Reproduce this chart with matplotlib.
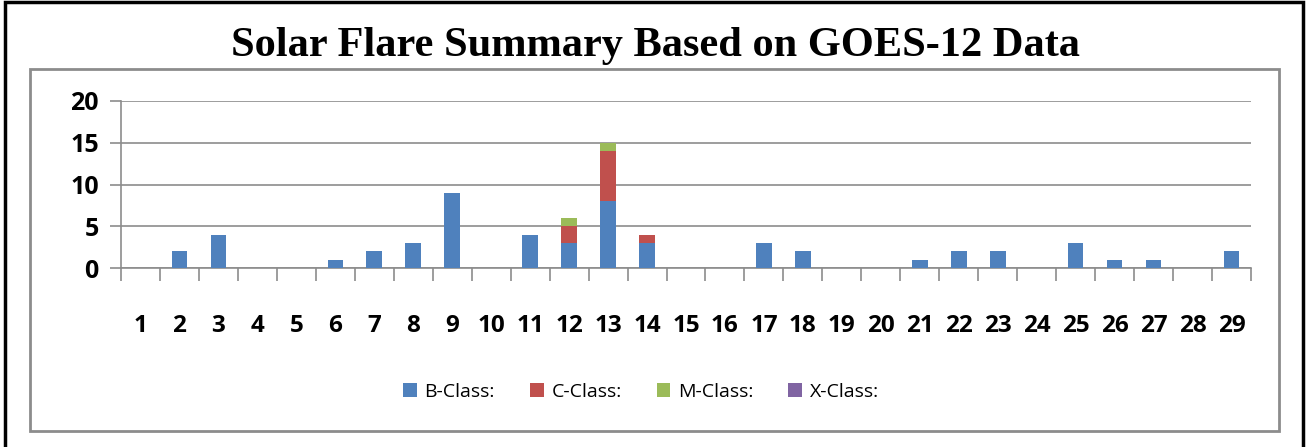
import matplotlib
matplotlib.use('Agg')
import matplotlib.pyplot as plt
import numpy as np
from matplotlib.patches import Rectangle

days = list(range(1, 30))
b_class = [0, 2, 4, 0, 0, 1, 2, 3, 9, 0, 4, 3, 8, 3, 0, 0, 3, 2, 0, 0, 1, 2, 2, 0, 3, 1, 1, 0, 2]
c_class = [0] * 29
c_class[11] = 2
c_class[12] = 6
c_class[13] = 1
m_class = [0] * 29
m_class[11] = 1
m_class[12] = 1
x_class = [0] * 29

labels = ['B-Class:', 'C-Class:', 'M-Class:', 'X-Class:']
colors = ['#4F81BD', '#C0504D', '#9BBB59', '#8064A2']

fig = plt.figure(figsize=(13.09, 4.47), dpi=100)
fig.patch.set_facecolor('white')

# outer black frame and inner grey chart frame
fig.add_artist(Rectangle((5 / 1309, -0.05), 1298 / 1309, 1.05 - 2 / 447, transform=fig.transFigure,
                         fill=False, edgecolor='black', linewidth=2.5))
fig.add_artist(Rectangle((30 / 1309, 1 - 431 / 447), 1249 / 1309, 362 / 447, transform=fig.transFigure,
                         fill=False, edgecolor='#8c8c8c', linewidth=2))

fig.text(655 / 1309, 1 - 46 / 447, 'Solar Flare Summary Based on GOES-12 Data', ha='center', va='center',
         fontsize=30.5, fontweight='bold', family='Liberation Serif')

ax = fig.add_axes([121 / 1309, 1 - 268 / 447, 1130 / 1309, 167 / 447])
x = np.array(days)
bottom = np.zeros(29)
handles = []
for vals, col, lab in zip([b_class, c_class, m_class, x_class], colors, labels):
    h = ax.bar(x, vals, width=0.4, bottom=bottom, color=col, label=lab, zorder=3)
    handles.append(h)
    bottom = bottom + np.array(vals)

ax.set_xlim(0.5, 29.5)
ax.set_ylim(0, 20)
ax.set_yticks([0, 5, 10, 15, 20])
ax.yaxis.grid(True, color='#8c8c8c', linewidth=1.2, zorder=0)
for s in ['top', 'right']:
    ax.spines[s].set_visible(False)
ax.spines['left'].set_color('#8c8c8c')
ax.spines['bottom'].set_color('#8c8c8c')
ax.spines['left'].set_linewidth(1.2)
ax.spines['bottom'].set_linewidth(1.2)

ax.set_xticks(x)
ax.set_xticklabels([str(d) for d in days])
ax.set_xticks(np.arange(0.5, 30, 1), minor=True)
ax.tick_params(axis='x', which='major', length=0, pad=33, labelsize=17.5)
ax.tick_params(axis='x', which='minor', length=9, width=1.2, color='#8c8c8c', direction='out')
ax.tick_params(axis='y', length=8, width=1.2, color='#8c8c8c', direction='out', labelsize=18, pad=8)
for t in ax.get_xticklabels() + ax.get_yticklabels():
    t.set_fontweight('bold')
    t.set_family('Open Sans')

fig.legend(handles=handles, labels=labels, loc='center', bbox_to_anchor=(641 / 1309, 1 - 392 / 447),
           ncol=4, frameon=False, prop={'family': 'Open Sans', 'size': 14},
           handlelength=0.7, handleheight=0.7, columnspacing=1.8, handletextpad=0.4)

plt.savefig('out.png', dpi=100)
